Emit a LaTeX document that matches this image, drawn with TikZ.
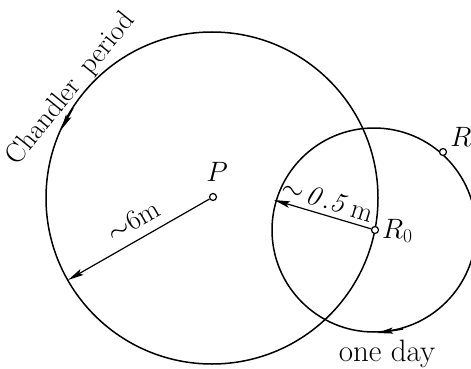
\RequirePackage{fix-cm}
\documentclass[tikz,border=0pt]{standalone}
\usetikzlibrary{arrows.meta}
\begin{document}
\begin{tikzpicture}[x=1pt,y=-1pt,
  curve/.style={line width=1.5pt},
  radius arrow/.style={line width=1.2pt,-{Stealth[length=16pt,width=6.5pt,inset=3pt]}},
  dir arrow/.style={line width=1.5pt,-{Stealth[length=16pt,width=6pt,inset=3pt]}},
  pt/.style={circle,draw,fill=white,line width=1.2pt,inner sep=0pt,minimum size=7pt},
  lbl/.style={font=\fontsize{28}{32}\selectfont,inner sep=0pt}]
\clip (0,0) rectangle (471,369);
\useasboundingbox (0,0) rectangle (471,369);
% big circle (Chandler)
\draw[curve] (212,198) circle[radius=166];
% small circle (daily)
\draw[curve] (374,230) circle[radius=102];
% direction arrows on the circles
\coordinate (ca1) at (73,108);
\coordinate (ca2) at (61,130);
\draw[dir arrow] (ca1) -- (ca2);
\coordinate (da1) at (403,329);
\coordinate (da2) at (377,333);
\draw[dir arrow] (da1) -- (da2);
% points
\node[pt] (P) at (213,197) {};
\node[pt] (R0) at (375,230) {};
\node[pt] (R) at (443,152) {};
% radius arrows
\coordinate (bigedge) at (68,280);
\coordinate (smalledge) at (274,200);
\draw[radius arrow] (P) -- (bigedge);
\draw[radius arrow] (R0) -- (smalledge);
% labels
\node[lbl] (Plbl) at (217,172) {$P$};
\node[lbl,anchor=west] (R0lbl) at (382,231) {$R_0$};
\node[lbl] (Rlbl) at (461,137) {$R$};
\node[lbl,font=\fontsize{28}{32}\selectfont,rotate=51] (chandler) at (71,89) {Chandler\hspace{0.2em} period};
\node[lbl,rotate=-17] (half) at (328,200) {$\sim\!\mathit{0.5}\,$m};
\node[lbl,rotate=30] (six) at (133,221) {$\sim$6m};
\node[lbl,font=\fontsize{31}{34}\selectfont] (day) at (387,354) {one day};
\end{tikzpicture}
\end{document}
